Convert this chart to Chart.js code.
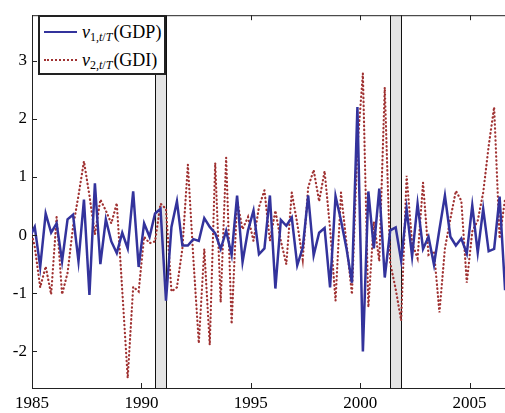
<!DOCTYPE html>
<html>
<head>
<meta charset="utf-8">
<script src="https://cdn.jsdelivr.net/npm/chart.js@4"></script>
<style>
  html, body { margin: 0; padding: 0; background: #fff; overflow: hidden; }
  #wrap { position: relative; width: 510px; height: 413px; }
  .legend {
    position: absolute; left: 38px; top: 15px; width: 128px; height: 60px;
    box-sizing: border-box; border: 2px solid #222; background: #fff;
    font-family: "Liberation Serif", "DejaVu Serif", serif; font-size: 18px; color: #000;
  }
  .row { position: absolute; left: 4px; height: 24px; display: flex; align-items: center; white-space: nowrap; }
  .sample { display: inline-block; width: 33px; margin-right: 5px; }
  .row sub { font-size: 12px; position: relative; top: 5px; margin-right: 1px; line-height: 1; }
</style>
</head>
<body>
<div id="wrap">
  <canvas id="chart"></canvas>
  <div class="legend">
    <div class="row" style="top:3px"><span class="sample" style="border-top:2.5px solid #33339c"></span><i>v</i><sub>1,<i>t</i>/<i>T</i></sub>(GDP)</div>
    <div class="row" style="top:31px"><span class="sample" style="border-top:2px dotted #a03232"></span><i>v</i><sub>2,<i>t</i>/<i>T</i></sub>(GDI)</div>
  </div>
</div>
<script>
// quarterly series, mid-quarter dates starting 1984Q4
const firstQuarter = 1984.875;
const gdp = [
  -0.05,
  0.14, -0.55, 0.37, 0.04,
  0.2, -0.45, 0.27, 0.35,
  -0.45, 0.61, -1.03, 0.89,
  -0.5, 0.27, -0.11, -0.31,
  0.04, -0.23, 0.75, -0.55,
  0.2, -0.03, 0.37, 0.45,
  -1.13, 0.14, 0.58, -0.18,
  -0.18, -0.07, -0.1, 0.29,
  0.14, 0.03, -0.24, 0.07,
  -0.34, 0.68, -0.46, 0.08,
  0.42, -0.33, -0.23, 0.68,
  -0.92, 0.26, 0.16, 0.3,
  -0.52, -0.22, 0.68, -0.35,
  0.04, 0.12, -0.9, 0.67,
  0.25, -0.23, -0.82, 2.2,
  -2.0, 0.75, -0.23, 0.8,
  -0.73, 0.08, 0.13, -0.44,
  0.45, -0.37, 0.54, -0.24,
  -0.03, -0.51, 0.1, 0.68,
  -0.03, -0.18, -0.06, -0.32,
  0.51, -0.3, 0.45, -0.28,
  -0.24, 0.66, -0.95
];
const gdi = [
  0.2,
  -0.2, -0.9, -0.54, -1.02,
  0.31, -1.02, -0.65, 0.14,
  0.68, 1.27, 0.68, 0.01,
  0.61, 0.42, 0.2, 0.55,
  -0.95, -2.46, -0.89, -0.97,
  -0.03, -0.14, -0.11, 0.54,
  0.45, -0.97, -0.9, -0.23,
  1.21, -0.4, -1.86, -0.24,
  -1.89, 1.24, -1.16, 1.33,
  -1.53, 0.59, 0.1, 0.31,
  -0.1, 0.48, 0.77, -0.1,
  0.42, -0.1, -0.5, 0.73,
  0.2, -0.42, 0.82, 1.12,
  0.58, 1.1, 0.11, -1.13,
  0.73, -0.14, -1.02, 1.5,
  2.78, -1.24, 0.23, -0.45,
  2.54, -0.48, -0.93, -1.47,
  1.02, -0.14, -0.4, 0.9,
  -0.34, -0.28, -1.33, -0.23,
  0.28, 0.76, 0.59, -0.82,
  0.06, 0.25, 0.73, 1.53,
  2.2, -0.06, 0.62
];
const xTicks = [1985, 1990, 1995, 2000, 2005];
const yTicks = [-2, -1, 0, 1, 2, 3];
const recessionStart = [1990.625, 2001.375];
const recessionEnd = [1991.125, 2001.875];

const toPoints = arr => arr.map((v, i) => ({ x: firstQuarter + i * 0.25, y: v }));
Chart.defaults.font.family = "'Liberation Serif', 'Times New Roman', serif";
const tickFont = { family: "'Liberation Serif', 'Times New Roman', serif", size: 17 };

// recession bands, top frame line, inward ticks (matlab look)
const framePlugin = {
  id: 'frame',
  beforeDatasetsDraw(chart) {
    const { ctx, chartArea: a, scales: { x } } = chart;
    ctx.save();
    recessionStart.forEach((s, i) => {
      const x0 = Math.round(x.getPixelForValue(s)) + 0.5;
      const x1 = Math.round(x.getPixelForValue(recessionEnd[i])) + 0.5;
      ctx.fillStyle = '#e4e4e4';
      ctx.fillRect(x0, a.top, x1 - x0, a.bottom - a.top);
      ctx.strokeStyle = '#111';
      ctx.lineWidth = 1;
      ctx.beginPath();
      ctx.moveTo(x0, a.top); ctx.lineTo(x0, a.bottom);
      ctx.moveTo(x1, a.top); ctx.lineTo(x1, a.bottom);
      ctx.stroke();
    });
    ctx.restore();
  },
  afterDraw(chart) {
    const { ctx, chartArea: a, scales: { x, y } } = chart;
    ctx.save();
    ctx.strokeStyle = '#222';
    ctx.lineWidth = 1;
    ctx.beginPath();
    ctx.moveTo(a.left, a.top + 0.5); ctx.lineTo(a.right, a.top + 0.5);
    xTicks.forEach(v => {
      const px = Math.round(x.getPixelForValue(v)) + 0.5;
      ctx.moveTo(px, a.bottom); ctx.lineTo(px, a.bottom - 5);
      ctx.moveTo(px, a.top); ctx.lineTo(px, a.top + 5);
    });
    yTicks.forEach(v => {
      const py = Math.round(y.getPixelForValue(v)) + 0.5;
      ctx.moveTo(a.left, py); ctx.lineTo(a.left + 5, py);
    });
    ctx.stroke();
    ctx.restore();
  }
};

new Chart(document.getElementById('chart'), {
  type: 'line',
  data: {
    datasets: [
      { label: 'GDP', data: toPoints(gdp), borderColor: '#33339c', borderWidth: 2.5,
        pointRadius: 0, tension: 0, fill: false },
      { label: 'GDI', data: toPoints(gdi), borderColor: '#a03232', borderWidth: 2.2,
        borderDash: [0.4, 3.6], borderCapStyle: 'round', pointRadius: 0, tension: 0, fill: false }
    ]
  },
  options: {
    responsive: true, maintainAspectRatio: false, animation: false, devicePixelRatio: 1,
    layout: { padding: { top: 10, left: 0, right: 0, bottom: 0 } },
    plugins: { legend: { display: false }, tooltip: { enabled: false } },
    scales: {
      x: {
        type: 'linear', min: 1985, max: 2006.85,
        grid: { display: false, drawTicks: false },
        border: { display: true, color: '#222', width: 1 },
        ticks: { font: tickFont, color: '#000', padding: 5, maxRotation: 0, callback: v => String(v) },
        afterBuildTicks: s => { s.ticks = xTicks.map(v => ({ value: v })); },
        afterFit: s => { s.height = 25; }
      },
      y: {
        min: -2.63, max: 3.78,
        grid: { display: false, drawTicks: false },
        border: { display: true, color: '#222', width: 1 },
        ticks: { font: tickFont, color: '#000', padding: 5, callback: v => String(v) },
        afterBuildTicks: s => { s.ticks = yTicks.map(v => ({ value: v })); },
        afterFit: s => { s.width = 32; }
      }
    }
  },
  plugins: [framePlugin]
});
</script>
</body>
</html>
